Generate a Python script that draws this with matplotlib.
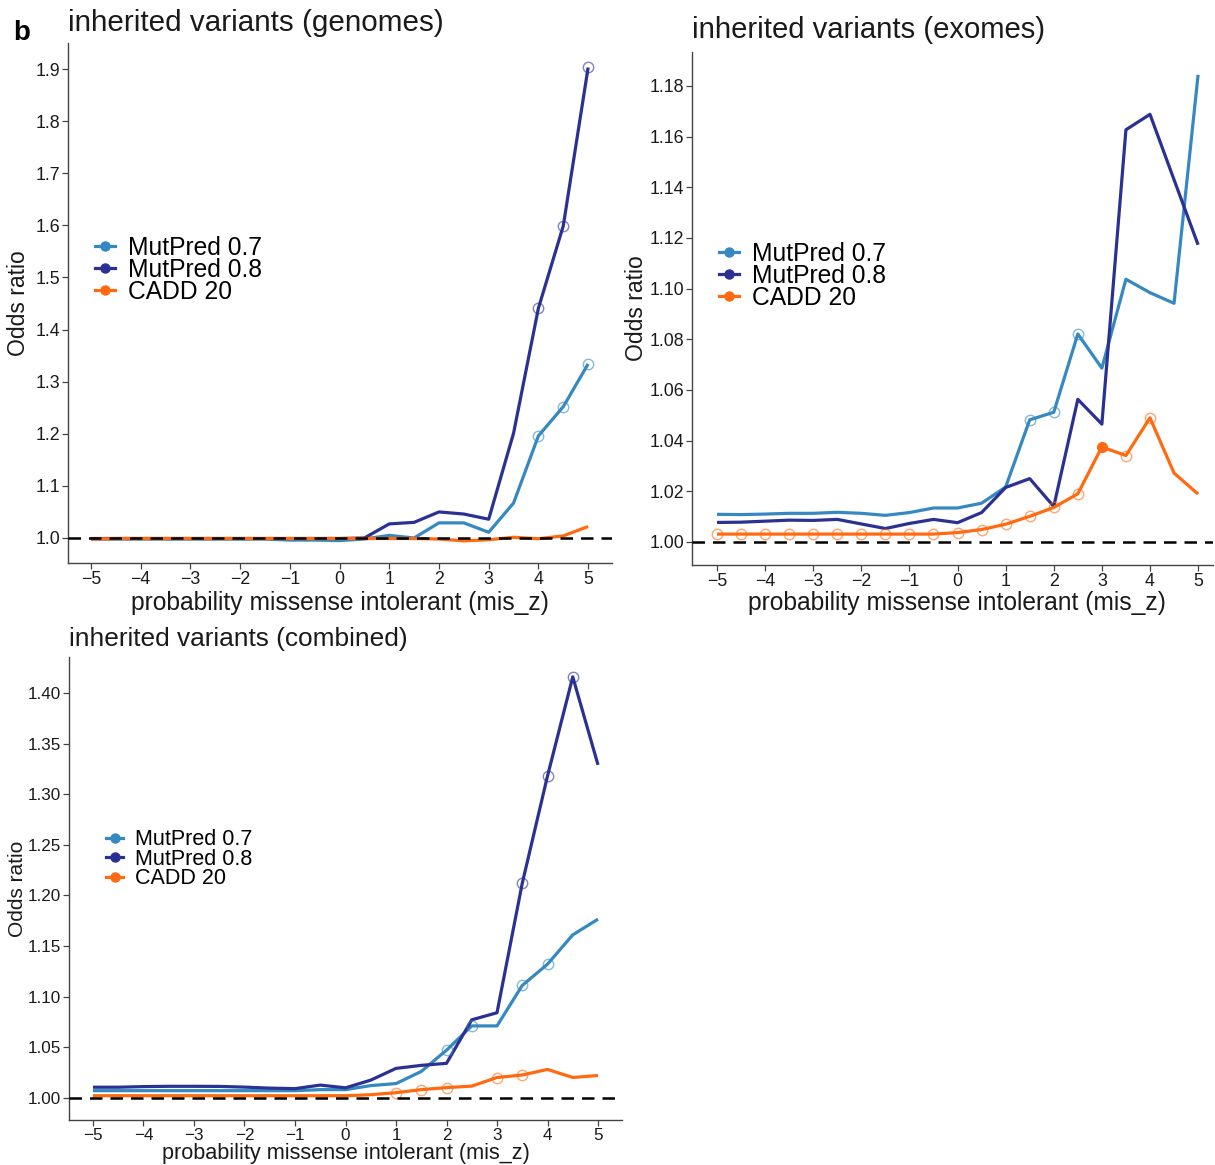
import matplotlib
matplotlib.use("Agg")
import matplotlib.pyplot as plt
from matplotlib.lines import Line2D

plt.rcParams["font.family"] = ["Liberation Sans", "DejaVu Sans"]

# ---------------------------------------------------------------- data
mis_z = [-5, -4.5, -4, -3.5, -3, -2.5, -2, -1.5, -1, -0.5, 0,
         0.5, 1, 1.5, 2, 2.5, 3, 3.5, 4, 4.5, 5]
series_names = ["MutPred 0.7", "MutPred 0.8", "CADD 20"]

# inherited variants, genomes
gen_mp07 = [0.998, 0.998, 0.998, 0.998, 0.998, 0.998, 0.998, 0.998, 0.996, 0.996, 0.995,
            0.998, 1.005, 1.000, 1.029, 1.029, 1.011, 1.067, 1.196, 1.252, 1.334]
gen_mp08 = [0.999, 0.999, 0.999, 0.999, 0.999, 0.999, 0.999, 0.999, 0.999, 0.999, 0.999,
            1.000, 1.027, 1.030, 1.050, 1.046, 1.036, 1.201, 1.441, 1.599, 1.903]
gen_cadd = [0.998, 0.999, 0.999, 0.999, 0.999, 0.999, 0.999, 0.999, 0.999, 0.999, 0.999,
            0.999, 0.999, 0.999, 0.998, 0.9945, 0.9966, 1.0014, 0.9986, 1.004, 1.022]
gen_sig = {"MutPred 0.7": [4, 4.5, 5], "MutPred 0.8": [4, 4.5, 5], "CADD 20": []}

# inherited variants, exomes
exo_mp07 = [1.0109, 1.0108, 1.0110, 1.0113, 1.0113, 1.0117, 1.0113, 1.0105, 1.0116, 1.0134, 1.0134,
            1.0153, 1.0217, 1.0482, 1.0512, 1.0821, 1.0686, 1.1037, 1.0984, 1.0942, 1.1844]
exo_mp08 = [1.0077, 1.0078, 1.0082, 1.0086, 1.0085, 1.0089, 1.0071, 1.0053, 1.0073, 1.0089, 1.0076,
            1.0116, 1.0215, 1.0250, 1.0140, 1.0563, 1.0465, 1.1627, 1.1688, 1.1430, 1.1173]
exo_cadd = [1.0031, 1.0031, 1.0031, 1.0031, 1.0031, 1.0031, 1.0031, 1.0031, 1.0031, 1.0031, 1.0037,
            1.0049, 1.0070, 1.0101, 1.0136, 1.0190, 1.0375, 1.0341, 1.0490, 1.0272, 1.0189]
exo_sig = {"MutPred 0.7": [1.5, 2, 2.5], "MutPred 0.8": [],
           "CADD 20": [-5, -4.5, -4, -3.5, -3, -2.5, -2, -1.5, -1, -0.5, 0,
                       0.5, 1, 1.5, 2, 2.5, 3.5, 4]}
exo_top = {"CADD 20": [3]}

# inherited variants, combined
com_mp07 = [1.007, 1.007, 1.007, 1.007, 1.007, 1.007, 1.007, 1.007, 1.007, 1.008, 1.008,
            1.012, 1.014, 1.026, 1.047, 1.071, 1.071, 1.111, 1.132, 1.161, 1.1765]
com_mp08 = [1.0104, 1.0104, 1.0110, 1.0113, 1.0113, 1.0112, 1.0105, 1.0095, 1.0090, 1.0125, 1.0098,
            1.0174, 1.029, 1.032, 1.034, 1.077, 1.084, 1.212, 1.318, 1.416, 1.329]
com_cadd = [1.002, 1.002, 1.002, 1.002, 1.002, 1.002, 1.002, 1.002, 1.002, 1.002, 1.002,
            1.003, 1.005, 1.008, 1.010, 1.0115, 1.020, 1.0225, 1.028, 1.020, 1.022]
com_sig = {"MutPred 0.7": [2, 2.5, 3.5, 4], "MutPred 0.8": [3.5, 4, 4.5],
           "CADD 20": [1, 1.5, 2, 3, 3.5]}

x_ticks = [-5, -4, -3, -2, -1, 0, 1, 2, 3, 4, 5]
x_tick_labels = ["\u22125", "\u22124", "\u22123", "\u22122", "\u22121", "0", "1", "2", "3", "4", "5"]
gen_yticks = [1.0, 1.1, 1.2, 1.3, 1.4, 1.5, 1.6, 1.7, 1.8, 1.9]
exo_yticks = [1.00, 1.02, 1.04, 1.06, 1.08, 1.10, 1.12, 1.14, 1.16, 1.18]
com_yticks = [1.00, 1.05, 1.10, 1.15, 1.20, 1.25, 1.30, 1.35, 1.40]

# ---------------------------------------------------------------- style
colors = {"MutPred 0.7": "#3589c0", "MutPred 0.8": "#2b3192", "CADD 20": "#ff6a10"}
TEXT = "#1a1a1a"
AXC = "#444444"

W, H = 1215, 1165
fig = plt.figure(figsize=(W / 100, H / 100), dpi=100)


def add_panel(left, top, right, bottom):
    return fig.add_axes([left / W, 1 - bottom / H, (right - left) / W, (bottom - top) / H])


def draw_panel(ax, series, sig, top_pts, xlim, ylim, yticks, yfmt, title, title_size,
               title_pad, xlabel_size, ylabel_size, tick_size, legend_size, legend_spacing,
               legend_anchor, ylab_x, xlab_y, xlab_x=0.5):
    for name, vals in series.items():
        ax.plot(mis_z, vals, color=colors[name], lw=2.3, solid_capstyle="butt", zorder=3)
        pts = sig.get(name, [])
        if pts:
            ys = [vals[mis_z.index(p)] for p in pts]
            ax.plot(pts, ys, ls="none", marker="o", ms=7.5, mfc="none",
                    mec=colors[name], mew=1.0, alpha=0.6, zorder=4)
        pts = top_pts.get(name, [])
        if pts:
            ys = [vals[mis_z.index(p)] for p in pts]
            ax.plot(pts, ys, ls="none", marker="o", ms=7, mfc=colors[name],
                    mec=colors[name], zorder=4)
    ax.axhline(1.0, color="black", lw=1.8, dashes=(5, 3.2), zorder=5)

    ax.set_xlim(*xlim)
    ax.set_ylim(*ylim)
    ax.set_xticks(x_ticks)
    ax.set_xticklabels(x_tick_labels)
    ax.set_yticks(yticks)
    ax.set_yticklabels([yfmt.format(v) for v in yticks])
    for s in ("top", "right"):
        ax.spines[s].set_visible(False)
    for s in ("left", "bottom"):
        ax.spines[s].set_color(AXC)
        ax.spines[s].set_linewidth(1.0)
    ax.tick_params(axis="both", length=4, width=0.9, color=AXC, labelsize=tick_size,
                   labelcolor=TEXT, pad=1.5)

    ax.set_xlabel("probability missense intolerant (mis_z)", fontsize=xlabel_size, color=TEXT)
    ax.set_ylabel("Odds ratio", fontsize=ylabel_size, color=TEXT)
    ax.xaxis.set_label_coords(xlab_x, xlab_y)
    ax.yaxis.set_label_coords(ylab_x, 0.5)
    ax.set_title(title, loc="left", fontsize=title_size, color=TEXT, pad=title_pad)

    handles = [Line2D([], [], color=colors[n], lw=2.3, marker="o", ms=6.5) for n in series_names]
    ax.legend(handles, series_names, loc="upper left", bbox_to_anchor=legend_anchor,
              frameon=False, fontsize=legend_size, handlelength=0.8, handletextpad=0.55,
              labelspacing=legend_spacing, borderpad=0, borderaxespad=0)


ax1 = add_panel(68, 43, 612, 563)
draw_panel(ax1, {"MutPred 0.7": gen_mp07, "MutPred 0.8": gen_mp08, "CADD 20": gen_cadd},
           gen_sig, {}, (-5.46, 5.48), (0.952, 1.950), gen_yticks, "{:.1f}",
           "inherited variants (genomes)", 21.3, 8.6, 17.7, 16.5, 12.8, 17.7, -0.08,
           (0.05, 0.629), -0.07, -0.053)

ax2 = add_panel(692, 52, 1213, 565)
draw_panel(ax2, {"MutPred 0.7": exo_mp07, "MutPred 0.8": exo_mp08, "CADD 20": exo_cadd},
           exo_sig, exo_top, (-5.52, 5.31), (0.9909, 1.1934), exo_yticks, "{:.2f}",
           "inherited variants (exomes)", 21.1, 10, 17.7, 16.5, 12.8, 17.7, -0.08,
           (0.052, 0.630), -0.084, -0.05, xlab_x=0.509)

ax3 = add_panel(69, 657, 622, 1120)
draw_panel(ax3, {"MutPred 0.7": com_mp07, "MutPred 0.8": com_mp08, "CADD 20": com_cadd},
           com_sig, {}, (-5.475, 5.475), (0.978, 1.4356), com_yticks, "{:.2f}",
           "inherited variants (combined)", 18.9, 8, 15.6, 15, 12.3, 15.5, -0.065,
           (0.067, 0.628), -0.076, -0.05)

fig.text(22 / W, 1 - 33 / H, "b", fontsize=20, fontweight="bold", color="black",
         ha="center", va="center")

fig.savefig("out.png", dpi=100, facecolor="white")
